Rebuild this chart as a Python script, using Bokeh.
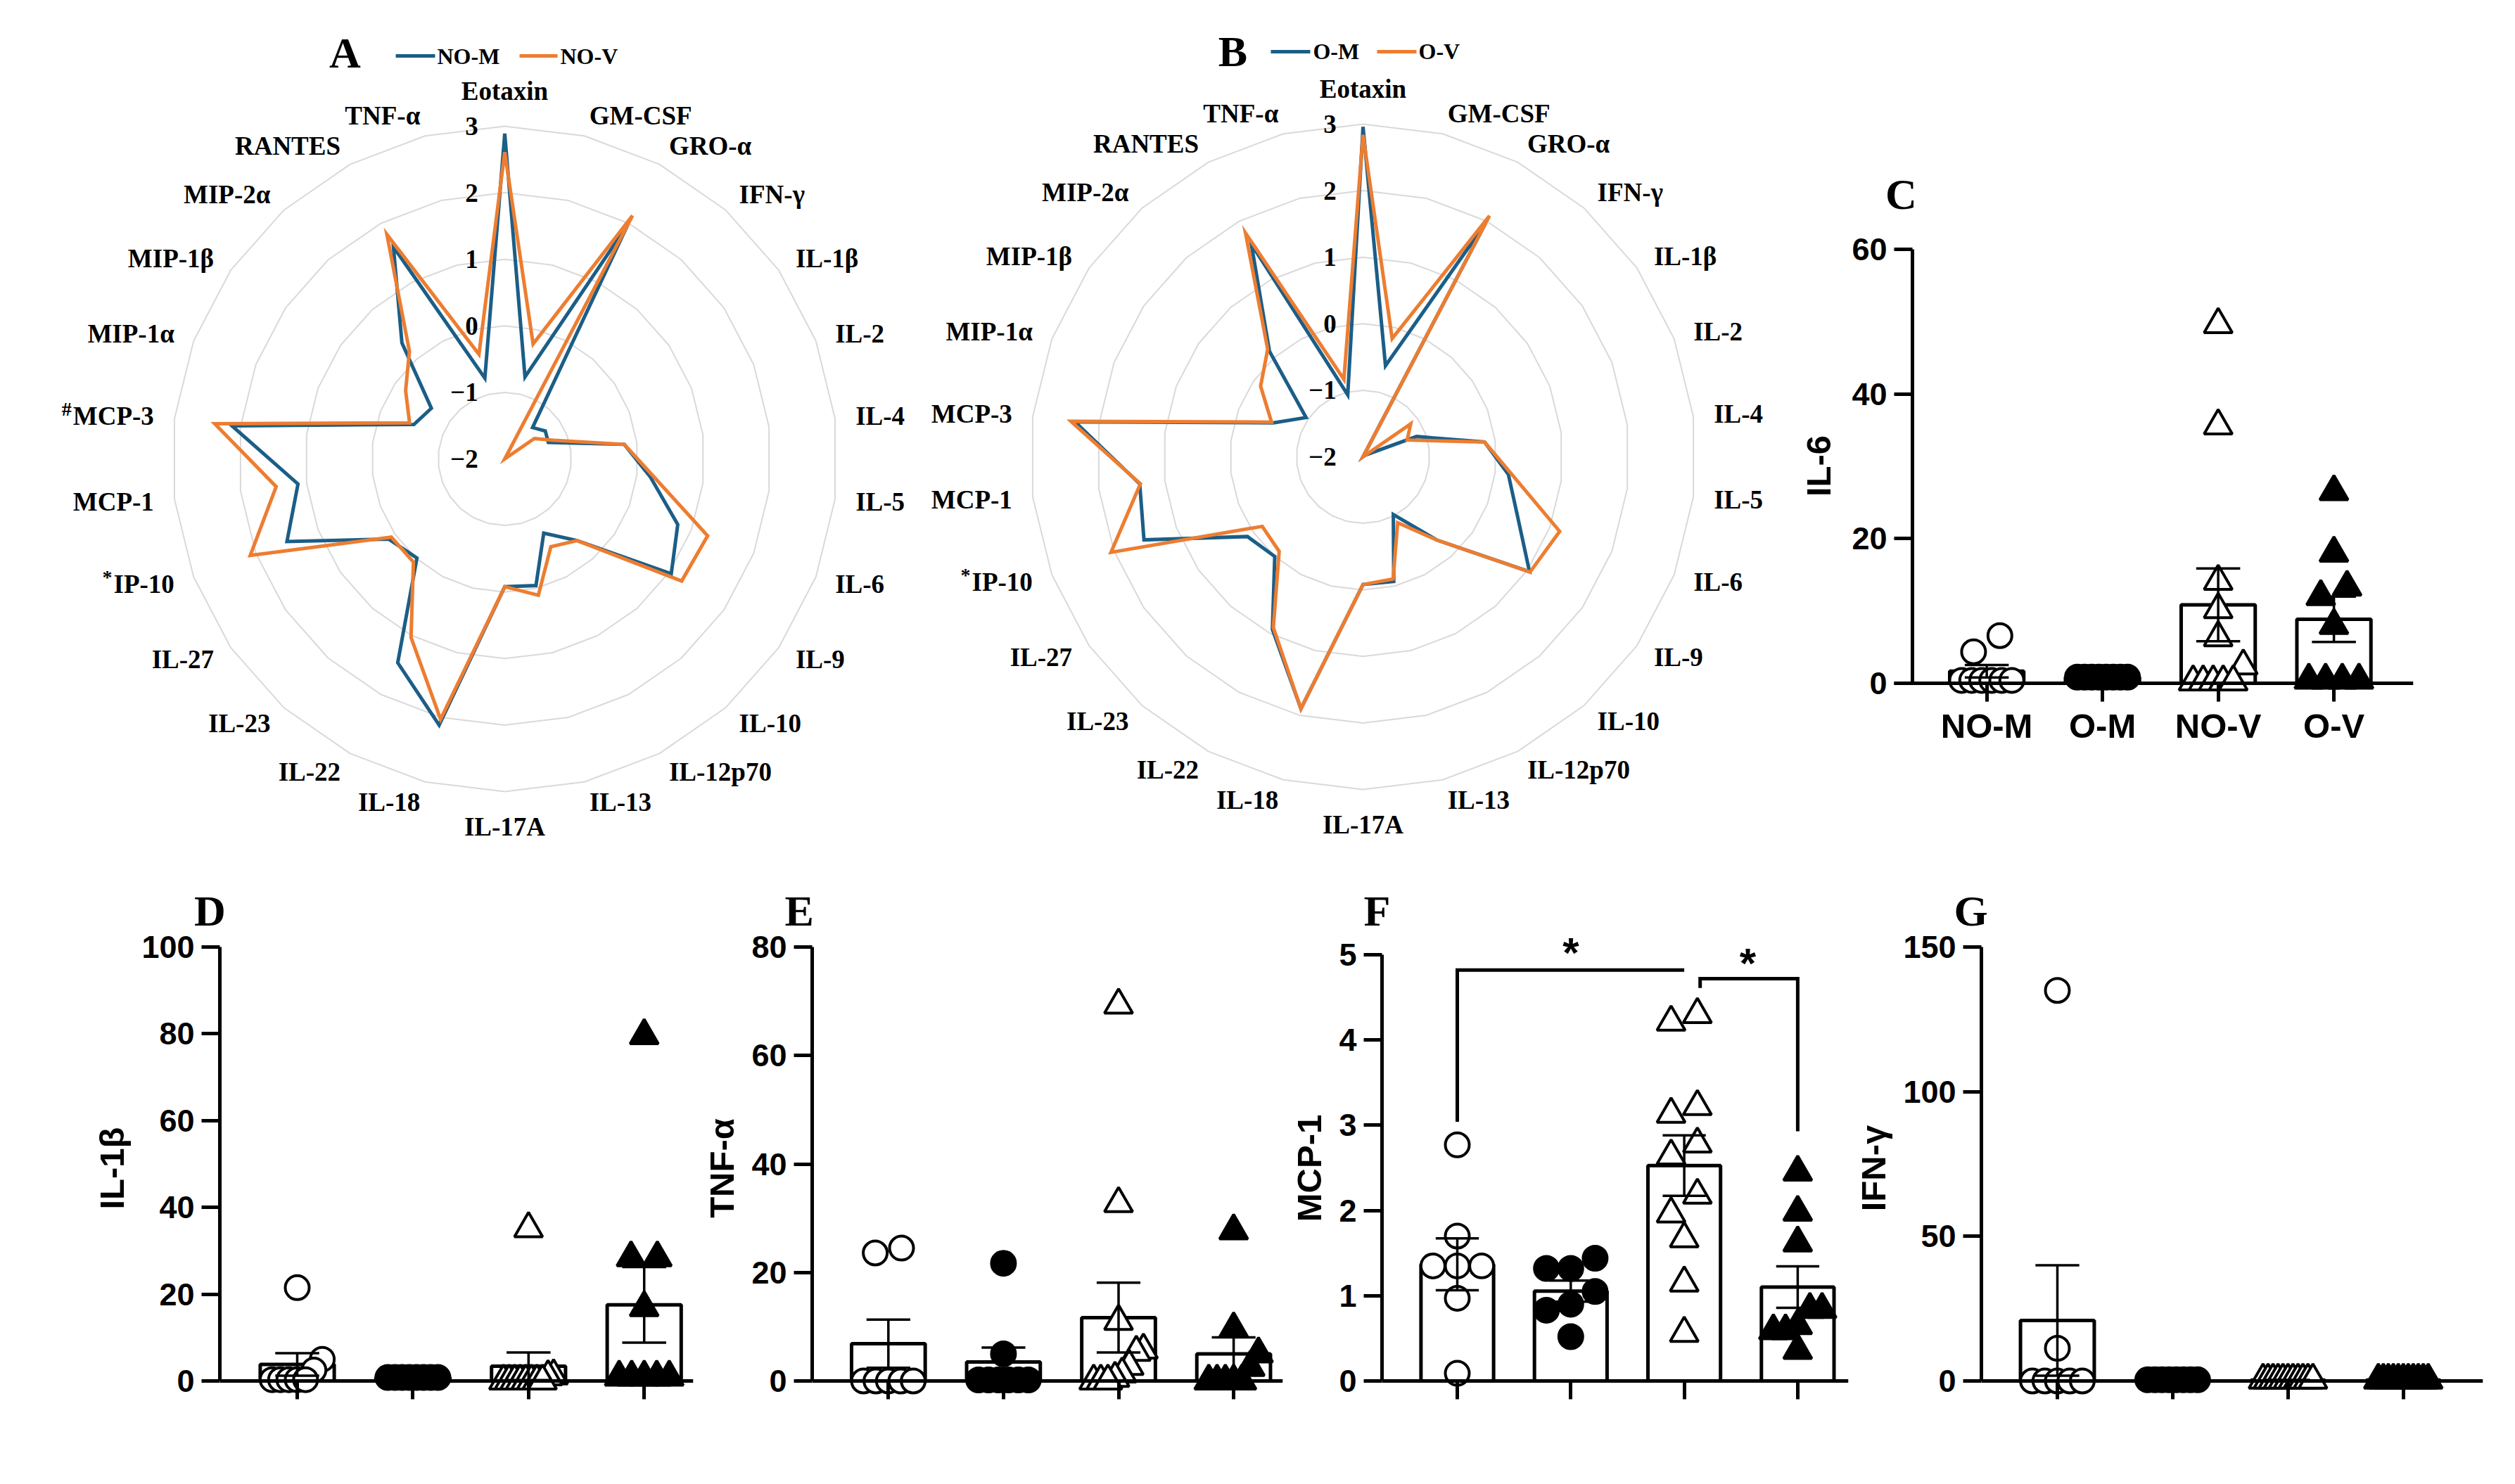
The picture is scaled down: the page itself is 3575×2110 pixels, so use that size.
import numpy as np
from bokeh.plotting import figure
from bokeh.layouts import row, column
from bokeh.models import Range1d, FixedTicker
from bokeh.core.properties import value
from bokeh.embed import file_html
from bokeh.resources import INLINE

# ---------------- radar data (z-scores) ----------------
cytokines = ["Eotaxin", "GM-CSF", "GRO-α", "IFN-γ", "IL-1β", "IL-2", "IL-4", "IL-5", "IL-6",
             "IL-9", "IL-10", "IL-12p70", "IL-13", "IL-17A", "IL-18", "IL-22", "IL-23",
             "IL-27", "IP-10", "MCP-1", "MCP-3", "MIP-1α", "MIP-1β", "MIP-2α", "RANTES", "TNF-α"]
a_nom = [2.89, -0.73, 1.98, -1.37, -1.26, -1.30, -0.19, 0.20, 0.78, 1.04, -0.36, -0.74, -0.04,
         -0.08, 2.12, 1.46, -0.01, 0.12, 1.50, 1.13, 2.13, -0.54, -0.66, 0.33, 1.60, -0.75]
a_nov = [2.61, -0.22, 2.13, -2.00, -1.46, -1.21, -0.19, 0.26, 1.26, 1.23, -0.36, -0.51, 0.11,
         -0.08, 2.03, 1.03, 0.07, 0.07, 2.09, 1.46, 2.39, -0.47, -0.19, 0.16, 1.81, -0.38]
b_om = [2.96, -0.59, 1.97, -2.00, -1.95, -1.14, -0.16, 0.20, 0.48, 1.04, -0.33, -1.02, -0.07,
        -0.08, 1.90, 0.93, 0.00, 0.11, 1.52, 1.38, 2.36, -0.56, -0.96, 0.12, 1.61, -1.04]
b_ov = [2.84, -0.17, 2.09, -2.00, -1.13, -1.29, -0.16, 0.26, 1.16, 1.05, -0.33, -0.88, -0.11,
        -0.08, 1.90, 0.90, -0.10, -0.16, 2.05, 1.37, 2.42, -0.53, -0.13, 0.16, 1.80, -0.80]
radar_ticks = [-2, -1, 0, 1, 2, 3]
a_marks = {"MCP-3": "#", "IP-10": "*"}
b_marks = {"IP-10": "*"}

# ---------------- scatter / bar data ----------------
groups = ["NO-M", "O-M", "NO-V", "O-V"]
il6_nom = [0.4, 0.4, 0.4, 0.4, 0.4, 0.4, 4.35, 6.59]
il6_om = [0.84, 0.84, 0.84, 0.84, 0.84, 0.84, 0.84, 0.84]
il6_nov = [49.6, 35.6, 14.1, 10.2, 6.3, 2.4, 0.2, 0.2, 0.2, 0.2, 0.2]
il6_ov = [26.5, 18.0, 13.3, 12.0, 8.0, 0.45, 0.45, 0.45, 0.45]
il1b_nom = [21.5, 5.0, 2.5, 0.3, 0.3, 0.3, 0.3, 0.3]
il1b_om = [0.8, 0.8, 0.8, 0.8, 0.8, 0.8, 0.8, 0.8]
il1b_nov = [35.1, 1.2, 1.0, 0.0, 0.0, 0.0, 0.0, 0.0, 0.0, 0.0, 0.0]
il1b_ov = [79.6, 28.4, 28.4, 16.9, 0.9, 0.9, 0.9, 0.9, 0.9]
tnfa_nom = [24.5, 23.6, 0.0, 0.0, 0.0, 0.0, 0.0]
tnfa_om = [21.7, 5.0, 0.2, 0.2, 0.2, 0.2, 0.2, 0.2]
tnfa_nov = [69.3, 32.7, 11.0, 5.7, 5.3, 2.7, 1.3, 0.5, 0.0, 0.0, 0.0]
tnfa_ov = [27.7, 9.6, 5.0, 2.5, 0.0, 0.0, 0.0, 0.0, 0.0]
mcp1_nom = [2.77, 1.70, 1.35, 1.35, 1.35, 0.97, 0.09]
mcp1_om = [1.32, 1.32, 1.44, 1.05, 0.83, 0.90, 0.52]
mcp1_nov = [4.21, 4.30, 3.13, 3.22, 2.78, 2.64, 2.18, 1.96, 1.67, 1.15, 0.56]
mcp1_ov = [2.45, 1.98, 1.62, 0.65, 0.84, 0.84, 0.59, 0.59, 0.36]
ifng_nom = [135.0, 11.3, 0.0, 0.0, 0.0, 0.0, 0.0]
ifng_om = [0.4, 0.4, 0.4, 0.4, 0.4, 0.4, 0.4, 0.4]
ifng_nov = [0.3] * 11
ifng_ov = [0.3] * 11
# significance brackets for MCP-1 (group positions, heights) and stars
mcp1_bracket_x = [[1, 1, 3], [3.14, 3.14, 4, 4]]
mcp1_bracket_y = [[3.04, 4.82, 4.82], [4.61, 4.72, 4.72, 2.93]]
mcp1_star_x = [2.0, 3.56]
mcp1_star_y = [5.14, 5.02]

BLUE = "#1b5e87"
ORANGE = "#ed7d31"
SERIF = "Liberation Serif"
SANS = "Liberation Sans"

TIMES_BOLD_W = {"M": 944, "C": 722, "P": 611, "-": 333, "3": 500, "I": 389, "1": 500, "0": 500}


def radar(width, height, frame_bottom, cx, cy, unit, s1, s2, marks, letter, names, leg):
    p = figure(width=width, height=height,
               x_range=Range1d(-cx / unit, (width - cx) / unit),
               y_range=Range1d(-(frame_bottom - cy) / unit, cy / unit),
               output_backend="svg", toolbar_location=None,
               x_axis_location=None, y_axis_location=None,
               min_border_left=0, min_border_right=0, min_border_top=0,
               min_border_bottom=height - frame_bottom)
    p.outline_line_color = None
    p.grid.visible = False
    n = len(cytokines)
    th = np.arange(n) * 2 * np.pi / n
    base = radar_ticks[0]
    for t in radar_ticks[1:]:
        r = t - base
        xs = list(r * np.sin(th)) + [0.0]
        ys = list(r * np.cos(th)) + [r]
        p.line(xs, ys, line_color="#d9d9d9", line_width=2)
    for s, col in ((s1, BLUE), (s2, ORANGE)):
        r = np.array(s) - base
        xs = list(r * np.sin(th)) + [r[0] * 0.0]
        ys = list(r * np.cos(th)) + [r[0]]
        p.line(xs, ys, line_color=col, line_width=5, line_join="miter")
    # value labels
    p.text(x=[-0.40] * len(radar_ticks), y=[t - base for t in radar_ticks],
           text=[str(t).replace("-", "−") for t in radar_ticks],
           text_align="right", text_baseline="middle",
           text_font=value(SERIF), text_font_style="bold", text_font_size="37px", text_color="black")
    # category labels
    R = 5.31
    fs = 37
    buckets = {}
    for i, name in enumerate(cytokines):
        s, c = np.sin(th[i]), np.cos(th[i])
        if abs(s) < 0.1:
            al = "center"
            bl = "bottom" if c > 0 else "top"
        else:
            al = "left" if s > 0 else "right"
            bl = "middle"
        buckets.setdefault((al, bl), []).append((R * s, R * c, name))
        if name in marks:
            w = sum(TIMES_BOLD_W.get(ch, 500) for ch in name) * fs / 1000.0 / unit
            buckets.setdefault(("sup", "sup"), []).append((R * s - w - 0.02, R * c + 0.11, marks[name]))
    for (al, bl), items in buckets.items():
        if al == "sup":
            p.text(x=[it[0] for it in items], y=[it[1] for it in items], text=[it[2] for it in items],
                   text_align="right", text_baseline="middle", text_font=value(SERIF),
                   text_font_style="bold", text_font_size="28px", text_color="black")
        else:
            p.text(x=[it[0] for it in items], y=[it[1] for it in items], text=[it[2] for it in items],
                   text_align=al, text_baseline=bl, text_font=value(SERIF),
                   text_font_style="bold", text_font_size="%dpx" % fs, text_color="black")
    # panel letter and legend
    p.text(x=[leg["letter"][0]], y=[leg["letter"][1]], text=[letter], text_font=value(SERIF),
           text_font_style="bold", text_font_size="62px", text_align="center",
           text_baseline="middle", text_color="black")
    for (x0, x1), tx, col, nm in ((leg["l1"], leg["t1"], BLUE, names[0]), (leg["l2"], leg["t2"], ORANGE, names[1])):
        p.line([x0, x1], [leg["ly"], leg["ly"]], line_color=col, line_width=5)
        p.text(x=[tx], y=[leg["ly"]], text=[nm], text_align="left", text_baseline="middle",
               text_font=value(SERIF), text_font_style="bold", text_font_size="32px", text_color="black")
    return p


def swarm(vals, ppu, spacing, d, wmax):
    vals = np.asarray(vals, float)
    order = np.argsort(vals, kind="stable")
    clusters = []
    for i in order:
        if clusters and (vals[i] - vals[clusters[-1][-1]]) * ppu < 0.8 * d:
            clusters[-1].append(i)
        else:
            clusters.append([i])
    off = np.zeros(len(vals))
    for c in clusters:
        k = len(c)
        if k > 1:
            w = min((k - 1) * 1.1 * d, wmax)
            off[c] = np.linspace(-w / 2, w / 2, k)
    return off / spacing


MARKERS = [("circle", "white", 34), ("circle", "black", 34), ("triangle", "white", 40), ("triangle", "black", 40)]


def bar_panel(geo, data, yticks, ylabel, letter, top_style=False, extra=None):
    fx, fy, fw, fh = geo["fig"]
    axis_px, x1_px, sp, right_px = geo["axis"], geo["x1"], geo["sp"], geo["right"]
    zero_px, top_px = geo["zero"], geo["top"]
    fl = geo.get("fl", axis_px)
    ft, fb = geo["ft"], geo["fb"]
    ppu = (zero_px - top_px) / yticks[-1]
    x_end = 1 + (right_px - x1_px) / sp
    ax_x = 1 - (x1_px - axis_px) / sp
    p = figure(width=fw, height=fh,
               x_range=Range1d(1 - (x1_px - fl) / sp, x_end),
               y_range=Range1d(-(fb - zero_px) / ppu, (zero_px - ft) / ppu),
               output_backend="svg", toolbar_location=None,
               min_border_left=int(round(fl - fx)),
               min_border_right=int(round(fx + fw - right_px)),
               min_border_top=int(round(ft - fy)),
               min_border_bottom=int(round(fy + fh - fb)))
    p.outline_line_color = None
    p.grid.visible = False
    p.xaxis.ticker = FixedTicker(ticks=[1, 2, 3, 4])
    p.xaxis.major_label_overrides = {i + 1: g for i, g in enumerate(groups)}
    p.xaxis.fixed_location = 0
    p.yaxis.ticker = FixedTicker(ticks=yticks)
    p.yaxis.bounds = (0, yticks[-1])
    p.axis.axis_line_width = 5
    p.axis.axis_line_color = "black"
    p.axis.major_tick_line_width = 5
    p.axis.major_tick_line_color = "black"
    p.axis.major_tick_out = 26
    p.axis.major_tick_in = 0
    p.axis.minor_tick_line_color = None
    p.axis.major_label_text_font = SANS
    p.axis.major_label_text_font_style = "bold"
    p.axis.major_label_text_color = "black"
    p.yaxis.major_label_text_font_size = "45px"
    p.xaxis.major_label_text_font_size = "49px"
    p.yaxis.major_label_standoff = 10
    p.xaxis.major_label_standoff = 14
    if not top_style:
        p.yaxis.axis_label = ylabel
        p.yaxis.axis_label_text_font = SANS
        p.yaxis.axis_label_text_font_style = "bold"
        p.yaxis.axis_label_text_font_size = "49px"
        p.yaxis.axis_label_text_color = "black"
        p.yaxis.axis_label_standoff = 12

    xs = np.arange(1, 5)
    means = np.array([np.mean(v) for v in data])
    sems = np.array([np.std(v, ddof=1) / np.sqrt(len(v)) for v in data])
    bw = 0.64
    p.vbar(x=xs, top=means, bottom=0, width=bw, fill_color="white", line_color="black", line_width=5)
    d = 34
    wmax = bw * sp - d
    for k, vals in enumerate(data):
        mk, fill, size = MARKERS[k]
        off = swarm(vals, ppu, sp, d, wmax)
        p.scatter(x=(k + 1) + off, y=vals, marker=mk, size=size, fill_color=fill,
                  line_color="black", line_width=4)
    cap = 0.38
    p.segment(x0=xs, y0=means - sems, x1=xs, y1=means + sems, line_color="black", line_width=3.5)
    p.segment(x0=xs - cap / 2, y0=means + sems, x1=xs + cap / 2, y1=means + sems, line_color="black", line_width=3.5)
    p.segment(x0=xs - cap / 2, y0=means - sems, x1=xs + cap / 2, y1=means - sems, line_color="black", line_width=3.5)
    if extra is not None:
        for bx, by in zip(extra["bx"], extra["by"]):
            p.line(bx, by, line_color="black", line_width=5, line_join="miter")
        p.text(x=extra["sx"], y=extra["sy"], text=["*"] * len(extra["sx"]), text_align="center",
               text_baseline="middle", y_offset=14, text_font=value(SANS), text_font_style="bold",
               text_font_size="60px", text_color="black")
    if top_style:
        # axis line and ticks from Bokeh; its texts drawn inside the (wider) frame
        p.yaxis.fixed_location = ax_x
        p.xaxis.bounds = (1 - (x1_px - axis_px + 26) / sp, x_end)
        p.axis.major_label_text_font_size = "1px"
        p.axis.major_label_standoff = 0
        p.text(x=xs, y=[0] * 4, text=groups, text_align="center", text_baseline="top", y_offset=33,
               text_font=value(SANS), text_font_style="bold", text_font_size="49px", text_color="black")
        p.text(x=[ax_x] * len(yticks), y=yticks, text=[str(t) for t in yticks], text_align="right",
               text_baseline="middle", x_offset=-36, text_font=value(SANS), text_font_style="bold",
               text_font_size="45px", text_color="black")
        tx, ty = geo["ytitle"]
        p.text(x=[1 + (tx - x1_px) / sp], y=[(zero_px - ty) / ppu], text=[ylabel], angle=np.pi / 2,
               text_align="center", text_baseline="middle", text_font=value(SANS), text_font_style="bold",
               text_font_size="49px", text_color="black")
        lx, ly = geo["letter"]
        p.text(x=[1 + (lx - x1_px) / sp], y=[(zero_px - ly) / ppu], text=[letter], text_font=value(SERIF),
               text_font_style="bold", text_font_size="62px", text_align="center",
               text_baseline="middle", text_color="black")
    else:
        p.title.text = letter
        p.title.text_font = SERIF
        p.title.text_font_style = "bold"
        p.title.text_font_size = "62px"
        p.title.text_color = "black"
        p.title.align = "left"
        p.title.offset = geo["letter_left"] - axis_px
        p.title.standoff = 0
        p.title.vertical_align = "bottom"
    return p


unit = 94.6
TOP_H = 1230
TOP_FB = 1200
pa = radar(1318, TOP_H, TOP_FB, 717, 652, unit, a_nom, a_nov, a_marks, "A", ["NO-M", "NO-V"],
           {"letter": (-2.40, 6.10), "l1": (-1.638, -1.047), "t1": -1.015,
            "l2": (0.222, 0.793), "t2": 0.835, "ly": 6.057})
pb = radar(1192, TOP_H, TOP_FB, 619, 649, unit, b_om, b_ov, b_marks, "B", ["O-M", "O-V"],
           {"letter": (-1.956, 6.09), "l1": (-1.385, -0.793), "t1": -0.751,
            "l2": (0.211, 0.803), "t2": 0.835, "ly": 6.089})

pc = bar_panel({"fig": (2510, 0, 1063, TOP_H), "axis": 2718, "fl": 2540, "x1": 2823.6, "sp": 164.5,
                "right": 3430, "zero": 971, "top": 354, "ft": 0, "fb": TOP_FB,
                "letter": (2702, 275), "ytitle": (2584, 662)},
               [il6_nom, il6_om, il6_nov, il6_ov], [0, 20, 40, 60], "IL-6", "C", top_style=True)

BY0, BH = 1230, 878
BFT, BFB = 1328, 1993
pd_ = bar_panel({"fig": (0, BY0, 990, BH), "axis": 312, "x1": 422, "sp": 164.4, "right": 985,
                 "zero": 1963, "top": 1346, "ft": BFT, "fb": BFB, "letter_left": 275.5},
                [il1b_nom, il1b_om, il1b_nov, il1b_ov], [0, 20, 40, 60, 80, 100], "IL-1β", "D")
pe = bar_panel({"fig": (990, BY0, 838, BH), "axis": 1154, "x1": 1262.3, "sp": 163.6, "right": 1823,
                "zero": 1963, "top": 1346, "ft": BFT, "fb": BFB, "letter_left": 1115},
               [tnfa_nom, tnfa_om, tnfa_nov, tnfa_ov], [0, 20, 40, 60, 80], "TNF-α", "E")
pf = bar_panel({"fig": (1828, BY0, 804, BH), "axis": 1964, "x1": 2071, "sp": 161.3, "right": 2627,
                "zero": 1963, "top": 1357, "ft": BFT, "fb": BFB, "letter_left": 1938},
               [mcp1_nom, mcp1_om, mcp1_nov, mcp1_ov], [0, 1, 2, 3, 4, 5], "MCP-1", "F",
               extra={"bx": mcp1_bracket_x, "by": mcp1_bracket_y, "sx": mcp1_star_x, "sy": mcp1_star_y})
pg = bar_panel({"fig": (2632, BY0, 941, BH), "axis": 2816, "x1": 2924, "sp": 163.9, "right": 3529,
                "zero": 1963, "top": 1346, "ft": BFT, "fb": BFB, "letter_left": 2777},
               [ifng_nom, ifng_om, ifng_nov, ifng_ov], [0, 50, 100, 150], "IFN-γ", "G")

layout = column(row(pa, pb, pc, spacing=0), row(pd_, pe, pf, pg, spacing=0), spacing=0)
open("out.html", "w").write(file_html(layout, INLINE))
